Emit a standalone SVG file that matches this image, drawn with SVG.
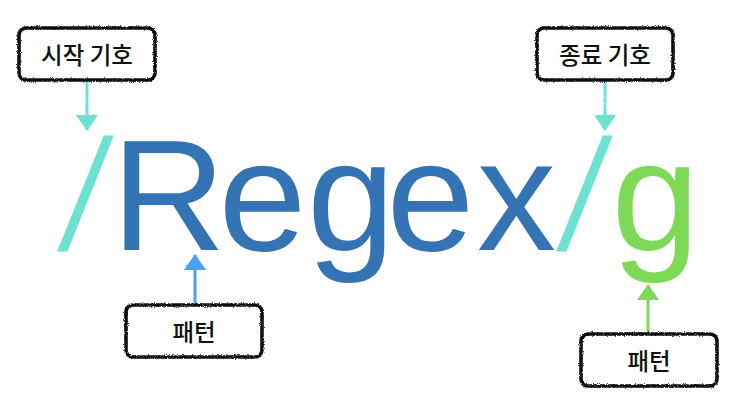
<svg xmlns="http://www.w3.org/2000/svg" width="734" height="404" viewBox="0 0 734 404">
<defs>
<filter id="rough" x="-10%" y="-20%" width="120%" height="140%">
<feTurbulence type="fractalNoise" baseFrequency="0.9" numOctaves="2" seed="3" result="n"/>
<feDisplacementMap in="SourceGraphic" in2="n" scale="3" xChannelSelector="R" yChannelSelector="G"/>
</filter>
<filter id="roughL" filterUnits="userSpaceOnUse" x="0" y="0" width="734" height="404">
<feTurbulence type="fractalNoise" baseFrequency="0.9" numOctaves="2" seed="5" result="n"/>
<feDisplacementMap in="SourceGraphic" in2="n" scale="2" xChannelSelector="R" yChannelSelector="G"/>
</filter>
<marker id="mTeal" viewBox="0 0 16 22" refX="15" refY="11" markerWidth="16" markerHeight="22" markerUnits="userSpaceOnUse" orient="auto">
<path d="M0,0 L16,11 L0,22 Z" fill="#6ee2d0"/>
</marker>
<marker id="mBlue" viewBox="0 0 16 22" refX="15" refY="11" markerWidth="16" markerHeight="22" markerUnits="userSpaceOnUse" orient="auto">
<path d="M0,0 L16,11 L0,22 Z" fill="#4d9ff5"/>
</marker>
<marker id="mGreen" viewBox="0 0 16 22" refX="15" refY="11" markerWidth="16" markerHeight="22" markerUnits="userSpaceOnUse" orient="auto">
<path d="M0,0 L16,11 L0,22 Z" fill="#7ed957"/>
</marker>
</defs>
<style>
.box{fill:#fff;stroke:#111;stroke-width:3.6;filter:url(#rough)}
.lbl{font-family:"Noto Sans CJK KR","Noto Sans",sans-serif;font-size:23.5px;font-weight:500;fill:#111;text-anchor:middle;dominant-baseline:central}
.big{font-family:"Liberation Sans",Arial,sans-serif;font-size:158px}
.teal{fill:#6ee2d0}
.blue{fill:#3474b4}
.green{fill:#7ed957}
.conn{fill:none;stroke-width:3}
</style>
<rect width="734" height="404" fill="#fff"/>
<g id="regex-text">
<text class="big teal" transform="translate(57.5,250) skewX(-10) scale(0.82,1)">/</text>
<text class="big blue" y="250"><tspan x="111.5">R</tspan><tspan x="218.5">e</tspan><tspan x="307">g</tspan><tspan x="386.5">e</tspan><tspan x="477">x</tspan></text>
<text class="big teal" transform="translate(556.5,250) skewX(-10) scale(0.82,1)">/</text>
<text class="big green" x="611.5" y="250">g</text>
</g>
<g id="connectors" filter="url(#roughL)">
<path class="conn" d="M87,80 L87,130" stroke="#6ee2d0" marker-end="url(#mTeal)"/>
<path class="conn" d="M605,80 L605,130" stroke="#6ee2d0" marker-end="url(#mTeal)"/>
<path class="conn" d="M195,305 L195,255" stroke="#4d9ff5" marker-end="url(#mBlue)"/>
<path class="conn" d="M648,333 L648,285" stroke="#7ed957" marker-end="url(#mGreen)"/>
</g>
<g id="start-symbol">
<rect class="box" x="19" y="28" width="136" height="52" rx="7"/>
<text class="lbl" x="87" y="54">시작 기호</text>
</g>
<g id="end-symbol">
<rect class="box" x="537" y="28" width="136" height="52" rx="7"/>
<text class="lbl" x="605" y="54">종료 기호</text>
</g>
<g id="pattern-left">
<rect class="box" x="126" y="305" width="136" height="52" rx="7"/>
<text class="lbl" x="194" y="331">패턴</text>
</g>
<g id="pattern-right">
<rect class="box" x="581" y="334" width="136" height="52" rx="7"/>
<text class="lbl" x="649" y="360">패턴</text>
</g>
</svg>
